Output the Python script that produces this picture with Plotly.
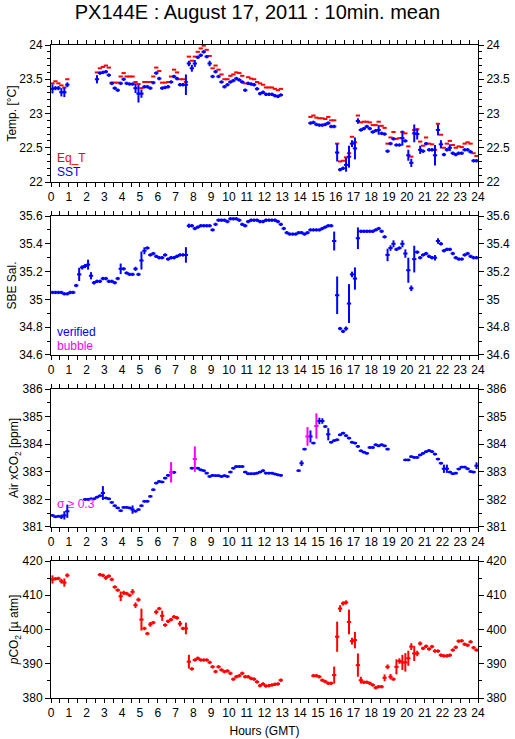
import plotly.graph_objects as go

# 10-minute bins over the day (slot i covers i/6 .. (i+1)/6 hours)
N = None
hours = [(i + 0.5) / 6 for i in range(144)]

# ---- Temperature ----
sst = [
    23.36, 23.37, 23.37, 23.31, 23.31, 23.42, N, N, N, N, N, N,
    N, N, N, 23.50, 23.59, 23.60, 23.61, 23.56, 23.44, 23.37, 23.34, 23.44,
    23.50, 23.44, 23.43, 23.43, 23.37, 23.29, 23.29, 23.39, 23.39, 23.37, 23.45, 23.59,
    23.51, 23.37, 23.38, 23.39, 23.46, 23.54, 23.51, 23.42, 23.42, 23.42, 23.73, 23.66,
    23.73, 23.82, 23.85, 23.90, 23.83, 23.73, 23.54, 23.61, 23.54, 23.46, 23.39, 23.42,
    23.46, 23.48, 23.51, 23.49, 23.46, 23.34, 23.44, 23.43, 23.42, 23.36, 23.29, 23.31,
    23.28, 23.28, 23.28, 23.26, 23.25, 23.27, N, N, N, N, N, N,
    N, N, N, 22.86, 22.87, 22.84, 22.83, 22.83, 22.84, 22.86, 22.81, 22.81,
    22.43, 22.18, 22.20, 22.25, 22.37, 22.56, 22.49, 22.89, 22.76, 22.78, 22.81, 22.78,
    22.73, 22.75, 22.76, 22.71, 22.70, 22.45, 22.56, 22.63, 22.54, 22.54, 22.64, 22.60,
    22.39, 22.28, 22.71, 22.70, 22.47, 22.45, 22.56, 22.47, 22.47, 22.39, 22.76, 22.55,
    22.40, 22.47, 22.50, 22.42, 22.40, 22.42, 22.42, 22.47, 22.47, 22.44, 22.31, 22.31,
]
sst_sd = [
    .066, .03, .03, .06, .07, .035, 0, 0, 0, 0, 0, 0,
    0, 0, 0, .06, .025, .025, .025, .025, .025, .025, .025, .025,
    .025, .025, .025, .025, .07, .13, .06, .025, .025, .025, .025, .025,
    .025, .025, .025, .025, .025, .025, .025, .025, .025, .15, .04, .05,
    .05, .025, .025, .025, .025, .04, .025, .025, .025, .025, .025, .025,
    .025, .025, .025, .025, .025, .025, .025, .025, .025, .025, .025, .025,
    .025, .025, .025, .025, .025, .025, 0, 0, 0, 0, 0, 0,
    0, 0, 0, .025, .025, .025, .025, .025, .025, .025, .025, .025,
    .13, .025, .025, .10, .16, .05, .16, .04, .025, .025, .025, .025,
    .025, .025, .07, .025, .025, .025, .025, .025, .025, .025, .11, .025,
    .08, .06, .13, .08, .06, .025, .025, .025, .025, .15, .08, .06,
    .025, .025, .05, .025, .025, .025, .025, .025, .025, .025, .025, .025,
]
eq_t = [
    23.44, 23.47, 23.44, 23.41, 23.38, 23.50, N, N, N, N, N, N,
    N, N, N, 23.60, 23.66, 23.68, 23.70, 23.67, 23.45, 23.45, 23.45, 23.54,
    23.59, 23.54, 23.54, 23.54, 23.46, 23.43, 23.37, 23.46, 23.46, 23.46, 23.54, 23.67,
    23.62, 23.45, 23.45, 23.46, 23.54, 23.64, 23.60, 23.50, 23.50, 23.46, 23.83, 23.77,
    23.83, 23.90, 23.95, 23.99, 23.93, 23.84, 23.66, 23.70, 23.64, 23.57, 23.50, 23.50,
    23.55, 23.57, 23.60, 23.59, 23.55, 23.44, 23.53, 23.51, 23.50, 23.46, 23.44, 23.42,
    23.38, 23.38, 23.38, 23.36, 23.34, 23.36, N, N, N, N, N, N,
    N, N, N, 22.95, 22.97, 22.94, 22.93, 22.93, 22.92, 22.95, 22.90, 22.90,
    22.56, 22.30, 22.31, 22.36, 22.42, 22.66, 22.58, 22.97, 22.87, 22.88, 22.88, 22.87,
    22.83, 22.83, 22.88, 22.82, 22.79, 22.56, 22.65, 22.73, 22.63, 22.64, 22.73, 22.71,
    22.52, 22.37, 22.76, 22.77, 22.59, 22.53, 22.65, 22.56, 22.55, 22.47, 22.85, 22.69,
    22.50, 22.56, 22.60, 22.54, 22.50, 22.52, 22.51, 22.56, 22.58, 22.56, 22.42, 22.38,
]

# ---- Salinity ----
sal = [
    35.05, 35.05, 35.05, 35.05, 35.04, 35.04, 35.05, 35.05, 35.10, 35.18, 35.23, 35.24,
    35.25, 35.17, 35.12, 35.13, 35.13, 35.15, 35.15, 35.13, 35.13, 35.12, 35.15, 35.22,
    35.22, 35.19, 35.18, 35.18, 35.22, 35.18, 35.28, 35.35, 35.37, 35.32, 35.33, 35.31,
    35.30, 35.30, 35.32, 35.29, 35.30, 35.30, 35.31, 35.32, 35.32, 35.32, 35.53, 35.53,
    35.51, 35.52, 35.53, 35.53, 35.53, 35.53, 35.50, 35.54, 35.57, 35.57, 35.57, 35.56,
    35.58, 35.58, 35.58, 35.57, 35.54, 35.53, 35.56, 35.57, 35.57, 35.57, 35.56, 35.56,
    35.57, 35.57, 35.57, 35.57, 35.56, 35.54, 35.51, 35.48, 35.47, 35.47, 35.47, 35.48,
    35.48, 35.47, 35.48, 35.50, 35.50, 35.50, 35.50, 35.51, 35.52, 35.53, 35.53, 35.42,
    35.03, 34.79, 34.77, 34.79, 34.97, 35.18, 35.15, 35.44, 35.49, 35.49, 35.49, 35.49,
    35.49, 35.50, 35.51, 35.49, 35.45, 35.32, 35.37, 35.40, 35.36, 35.37, 35.40, 35.33,
    35.21, 35.08, 35.29, 35.34, 35.30, 35.32, 35.33, 35.31, 35.30, 35.30, 35.42, 35.40,
    35.35, 35.36, 35.36, 35.33, 35.30, 35.29, 35.29, 35.32, 35.33, 35.31, 35.30, 35.30,
]
sal_sd = [
    .012, .012, .012, .012, .012, .012, .012, .012, .012, .048, .015, .015,
    .036, .026, .012, .012, .012, .012, .012, .012, .012, .012, .012, .038,
    .012, .012, .012, .012, .015, .012, .065, .025, .012, .012, .012, .012,
    .012, .012, .012, .012, .012, .012, .012, .012, .012, .056, .015, .012,
    .012, .012, .012, .012, .012, .012, .012, .012, .012, .012, .012, .012,
    .012, .012, .012, .012, .012, .012, .012, .012, .012, .012, .012, .012,
    .012, .012, .012, .012, .012, .012, .012, .012, .012, .012, .012, .012,
    .012, .012, .012, .012, .012, .012, .012, .012, .012, .012, .012, .068,
    .135, .012, .012, .015, .14, .02, .08, .078, .012, .012, .012, .012,
    .012, .012, .012, .012, .012, .045, .02, .025, .012, .012, .025, .03,
    .09, .02, .096, .012, .012, .012, .012, .012, .012, .02, .02, .012,
    .012, .012, .012, .012, .012, .012, .012, .012, .012, .012, .012, .012,
]

# ---- Air xCO2 ----
xco2 = [
    381.42, 381.37, 381.39, 381.37, 381.42, 381.57, N, N, N, N, N, 382.00,
    382.00, 382.02, 382.02, 382.08, 382.13, 382.23, 382.05, 382.02, 381.89, 381.77, 381.69, 381.59,
    381.71, 381.71, 381.69, 381.63, 381.57, 381.63, 381.77, 381.93, 381.93, 382.11, 382.35, 382.59,
    382.65, 382.63, 382.77, 382.87, 382.98, 382.98, N, N, N, N, N, 383.13,
    383.46, 383.13, 383.07, 383.04, 382.95, 382.83, 382.87, 382.86, 382.86, 382.83, 382.86, 382.83,
    382.99, 383.13, 383.19, 383.19, 383.19, 382.99, 382.93, 382.93, 382.93, 382.95, 382.99, 383.04,
    382.95, 382.95, 382.95, 382.92, 382.89, 382.87, N, N, N, N, N, 383.04,
    383.31, 383.82, 384.28, 384.28, 384.04, 384.66, 384.84, 384.84, 384.64, 384.36, 384.07, 384.13,
    384.16, 384.34, 384.40, 384.31, 384.22, 384.07, 384.04, 383.92, 383.76, 383.71, 383.67, 383.88,
    383.88, 383.98, 383.94, 383.98, 383.94, 383.82, N, N, N, N, N, 383.43,
    383.43, 383.55, 383.52, 383.52, 383.61, 383.67, 383.73, 383.77, 383.73, 383.64, 383.46, 383.31,
    383.11, 383.11, 382.99, 382.93, 382.95, 383.10, 383.17, 383.17, 383.11, 383.01, 382.99, 383.22,
]
xco2_sd = [
    .05, .05, .05, .08, .15, .24, 0, 0, 0, 0, 0, .05,
    .05, .05, .05, .05, .05, .25, .05, .05, .05, .05, .05, .05,
    .05, .05, .05, .15, .05, .05, .05, .05, .05, .05, .05, .05,
    .05, .05, .05, .05, .37, .05, 0, 0, 0, 0, 0, .05,
    .46, .05, .05, .05, .05, .05, .05, .05, .05, .05, .05, .05,
    .05, .05, .05, .05, .05, .05, .05, .05, .05, .05, .05, .05,
    .05, .05, .05, .05, .05, .05, 0, 0, 0, 0, 0, .05,
    .10, .05, .34, .22, .05, .46, .12, .10, .05, .22, .05, .05,
    .05, .05, .05, .05, .05, .05, .05, .05, .05, .05, .05, .05,
    .05, .05, .05, .05, .05, .05, 0, 0, 0, 0, 0, .05,
    .05, .05, .05, .05, .05, .05, .05, .05, .05, .05, .05, .05,
    .15, .15, .05, .05, .05, .05, .05, .05, .05, .05, .05, .12,
]

# ---- pCO2 ----
pco2 = [
    414.6, 414.8, 414.9, 414.1, 413.7, 415.8, N, N, N, N, N, N,
    N, N, N, N, 416.0, 415.8, 415.1, 415.6, 414.6, 412.4, 411.5, 409.7,
    410.7, 410.5, 410.0, 411.0, 407.1, 408.7, 402.9, 400.3, 398.8, 401.5, 402.0, 405.1,
    406.1, 404.0, 401.3, 402.4, 402.9, 403.7, 403.4, 401.7, 400.3, 400.3, 390.6, 388.5,
    391.1, 391.6, 391.1, 391.1, 391.1, 390.4, 389.1, 387.7, 389.1, 388.2, 387.7, 387.9,
    387.2, 385.5, 386.2, 386.5, 387.2, 386.2, 386.2, 385.7, 385.5, 384.7, 383.6, 384.1,
    383.5, 383.6, 383.8, 384.0, 384.1, 385.2, N, N, N, N, N, N,
    N, N, N, N, 386.5, 386.5, 386.2, 385.2, 384.8, 384.3, 384.3, 386.7,
    397.9, 406.1, 407.6, 407.9, 402.2, 396.6, 396.9, 389.6, 385.2, 384.6, 384.6, 384.3,
    383.8, 383.0, 383.3, 383.3, 385.9, 389.1, 386.2, 385.5, 389.1, 390.8, 390.4, 390.4,
    391.6, 395.0, 393.0, 393.0, 395.9, 394.5, 395.1, 394.3, 395.0, 393.7, 393.7, 392.5,
    392.3, 392.3, 392.5, 394.0, 394.8, 396.6, 396.7, 395.7, 395.4, 396.4, 394.7, 394.0,
]
pco2_sd = [
    1.2, .5, .5, .7, 1.2, .6, 0, 0, 0, 0, 0, 0,
    0, 0, 0, 0, .5, .5, .6, .5, .5, .5, .5, 1.4,
    .6, .5, .5, .8, .8, .6, 3.2, .5, .5, .7, .5, .7,
    .5, 1.5, .5, .5, .5, .5, .5, .8, .5, 1.7, 2.0, .5,
    .5, .5, .5, .5, .5, .5, .5, .5, .5, .5, .5, .5,
    .5, .5, .5, .5, .5, .5, .5, .5, .5, .5, .5, .5,
    .5, .5, .5, .5, .5, .5, 0, 0, 0, 0, 0, 0,
    0, 0, 0, 0, .5, .5, .5, .5, .5, .5, .5, 2.5,
    4.4, 1.0, .6, .6, 3.6, 1.0, 2.4, 3.4, 1.0, .5, .5, .5,
    .5, .5, .5, .5, 1.0, .7, .8, .5, 2.2, .8, 2.2, 2.7,
    2.2, 1.0, 2.2, .8, .6, .5, .5, .5, .5, .5, .5, .5,
    .5, .5, .5, .5, .5, .5, .5, .5, .5, .5, .5, .5,
]

# axis setup per panel
y_ranges = [[22, 24], [34.6, 35.6], [381, 386], [380, 420]]
y_major = [0.5, 0.2, 1, 10]
y_minor = [0.1, 0.1, 0.5, 5]
y_titles = ["Temp. [°C]", "SBE Sal.", "Air xCO<sub>2</sub> [ppm]",
            "<i>p</i>CO<sub>2</sub> [µ atm]"]
domains = [[0.7902, 1.0], [0.5253, 0.7381], [0.2619, 0.4732], [0.0, 0.2098]]

BLUE, RED, MAG = "#0000FF", "#FF0000", "#FF00FF"
FONT = "Liberation Sans, Arial, Helvetica, sans-serif"
HALF = 0.12   # half-width of the horizontal dash (about one 10-min bin)


def ax_id(n):
    return "" if n == 1 else str(n)


def bars(y, sd, color, n, vertical=True):
    return go.Scatter(
        x=hours, y=y, xaxis="x" + ax_id(n), yaxis="y" + ax_id(n),
        mode="markers", marker=dict(size=1, color="rgba(0,0,0,0)"),
        error_x=dict(type="constant", value=HALF, width=0, thickness=2, color=color),
        error_y=dict(type="data", array=sd, width=0, thickness=2, color=color,
                     visible=vertical),
        hoverinfo="skip", showlegend=False,
    )


fig = go.Figure()
fig.add_trace(bars(eq_t, None, RED, 1, vertical=False))
fig.add_trace(bars(sst, sst_sd, BLUE, 1))
fig.add_trace(bars(sal, sal_sd, BLUE, 2))

# xCO2 points with sigma >= 0.3 are drawn in magenta
x_ok = [v if (v is not None and s < 0.3) else None for v, s in zip(xco2, xco2_sd)]
x_bad = [v if (v is not None and s >= 0.3) else None for v, s in zip(xco2, xco2_sd)]
fig.add_trace(bars(x_ok, xco2_sd, BLUE, 3))
fig.add_trace(bars(x_bad, xco2_sd, MAG, 3))
fig.add_trace(bars(pco2, pco2_sd, RED, 4))

# dummy traces so the right-hand axes get drawn
for n in range(1, 5):
    fig.add_trace(go.Scatter(x=[None], y=[None], xaxis="x" + ax_id(n), yaxis=f"y{n + 4}",
                             showlegend=False, hoverinfo="skip"))

axis_font = dict(family=FONT, size=12, color="black")
layout = dict(
    width=515, height=739,
    paper_bgcolor="white", plot_bgcolor="white",
    margin=dict(l=51, r=37, t=45, b=41),
    font=dict(family=FONT, size=12, color="black"),
    showlegend=False,
    title=dict(text="PX144E : August 17, 2011 : 10min. mean", x=0.5, xanchor="center",
               y=0.984, yanchor="middle", font=dict(family=FONT, size=20, color="black")),
)

for i in range(4):
    n = i + 1
    xa = dict(
        domain=[0, 1], anchor=f"y{ax_id(n)}", range=[0, 24],
        tickmode="linear", tick0=0, dtick=1,
        ticks="outside", ticklen=4, tickwidth=1, tickcolor="black",
        minor=dict(dtick=0.5, ticks="outside", ticklen=4, tickwidth=1, tickcolor="black"),
        showline=True, linecolor="black", linewidth=1, mirror="ticks",
        showgrid=False, zeroline=False, tickfont=axis_font, automargin=False,
    )
    if n == 4:
        xa["title"] = dict(text="Hours (GMT)", font=axis_font, standoff=7)
    layout["xaxis" + ax_id(n)] = xa
    common_y = dict(
        domain=domains[i], range=y_ranges[i],
        tickmode="linear", tick0=y_ranges[i][0], dtick=y_major[i],
        ticks="outside", ticklen=5, tickwidth=1, tickcolor="black",
        minor=dict(dtick=y_minor[i], ticks="outside", ticklen=3, tickwidth=1,
                   tickcolor="black"),
        showgrid=False, zeroline=False, tickfont=axis_font, automargin=False,
    )
    layout["yaxis" + ax_id(n)] = dict(
        common_y, anchor="x" + ax_id(n), showline=True, linecolor="black", linewidth=1,
        mirror=True, title=dict(text=y_titles[i], font=axis_font, standoff=0),
    )
    layout[f"yaxis{n + 4}"] = dict(
        common_y, anchor="x" + ax_id(n), overlaying="y" + ax_id(n), side="right",
        showline=False,
    )

fig.update_layout(**layout)

# in-panel legend texts
notes = [
    (1, 0.175, "Eq_T", RED), (1, 0.07, "SST", BLUE),
    (2, 0.165, "verified", BLUE), (2, 0.065, "bubble", MAG),
    (3, 0.165, "σ ≥ 0.3", MAG),
]
for n, yy, txt, col in notes:
    fig.add_annotation(xref=f"x{ax_id(n)} domain", yref=f"y{ax_id(n)} domain", x=0.01, y=yy,
                       text=txt, showarrow=False, xanchor="left", yanchor="middle",
                       font=dict(family=FONT, size=12, color=col))

# drop the default page margin so the figure sits at the window's top-left
fig.write_html("out.html", config={"displayModeBar": False},
               post_script="document.body.style.margin='0';")
